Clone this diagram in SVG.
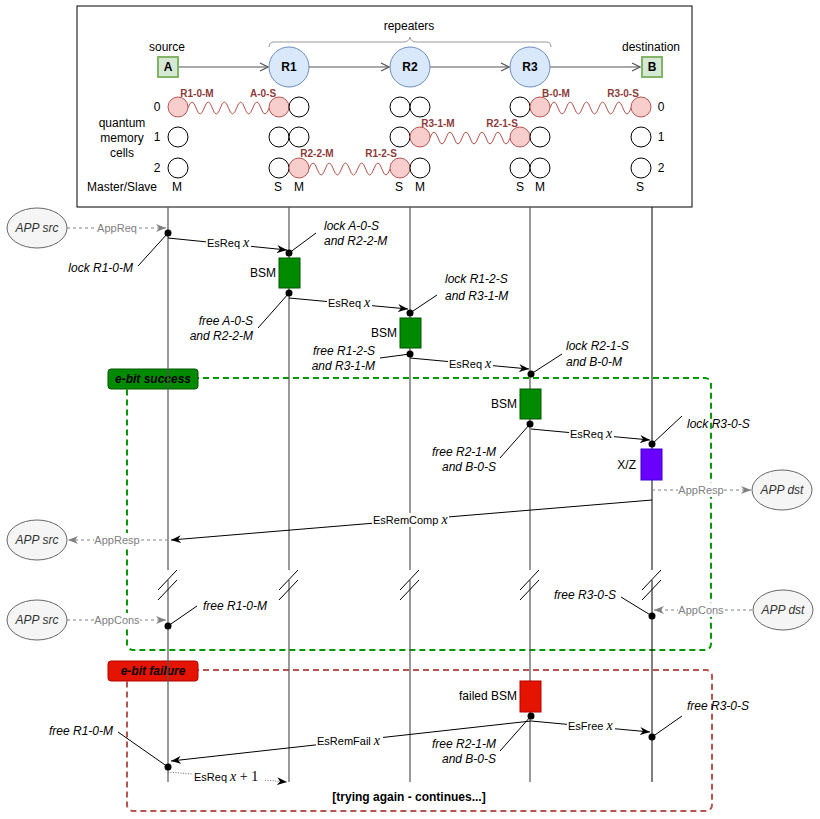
<svg xmlns="http://www.w3.org/2000/svg" width="820" height="819" viewBox="0 0 820 819">
<defs>
<style>
text{font-family:"Liberation Sans",Arial,sans-serif;fill:#000}
.t12{font-size:12px}
.t11{font-size:11px}
.c{text-anchor:middle}
.r{text-anchor:end}
.it{font-style:italic}
.b{font-weight:bold}
.mx{font-family:"Liberation Serif","Times New Roman",serif;font-style:italic;font-size:14px}
.mr{font-family:"Liberation Serif","Times New Roman",serif;font-size:14px}
.gray{fill:#808080}
.mem{fill:#fff;stroke:#000;stroke-width:1}
.ent{fill:#f8cecc;stroke:#b85450;stroke-width:1}
.wave{fill:none;stroke:#b85450;stroke-width:1}
.ml{font-size:10px;font-weight:bold;fill:#8c3b3b;text-anchor:middle}
.life{stroke:#555;stroke-width:1.2}
.msg{stroke:#000;stroke-width:1;fill:none}
.app{stroke:#808080;stroke-width:1;stroke-dasharray:3,3;fill:none}
.lead{stroke:#000;stroke-width:1}
.dot{fill:#000}
.bg{fill:#fff}
.ell{fill:#f5f5f5;stroke:#666;stroke-width:1}
.ellt{font-size:12px;font-style:italic;fill:#333;text-anchor:middle}
.topa{stroke:#555;stroke-width:1.2;fill:none}
</style>
<marker id="ah" viewBox="0 0 10 8" refX="10" refY="4" markerWidth="10" markerHeight="8" markerUnits="userSpaceOnUse" orient="auto">
<path d="M0,0 L10,4 L0,8 L3,4 z" fill="#000"/>
</marker>
<marker id="ahg" viewBox="0 0 10 8" refX="10" refY="4" markerWidth="10" markerHeight="8" markerUnits="userSpaceOnUse" orient="auto">
<path d="M0,0 L10,4 L0,8 L3,4 z" fill="#808080"/>
</marker>
<marker id="ao" viewBox="0 0 10 10" refX="9" refY="5" markerWidth="10" markerHeight="10" markerUnits="userSpaceOnUse" orient="auto">
<path d="M1,1 L9,5 L1,9" fill="none" stroke="#555" stroke-width="1.2"/>
</marker>
</defs>
<rect width="820" height="819" fill="#fff"/>

<g id="topology">
<rect x="77" y="6" width="615" height="201" fill="#fff" stroke="#000" stroke-width="1"/>
<text class="t12 c" x="409" y="30">repeaters</text>
<path d="M269,47 Q269,42 274,42 L404,42 Q409,42 410,37 Q411,42 416,42 L546,42 Q551,42 551,47" fill="none" stroke="#999" stroke-width="1"/>
<text class="t12 c" x="167" y="51">source</text>
<text class="t12 c" x="651" y="51">destination</text>
<g class="topconn">
<line class="topa" x1="178" y1="67" x2="268" y2="67" marker-end="url(#ao)"/>
<line class="topa" x1="309" y1="67" x2="389" y2="67" marker-end="url(#ao)"/>
<line class="topa" x1="430" y1="67" x2="509" y2="67" marker-end="url(#ao)"/>
<line class="topa" x1="550" y1="67" x2="640" y2="67" marker-end="url(#ao)"/>
</g>
<g id="nodeA"><rect x="158" y="57" width="20" height="20" fill="#d5e8d4" stroke="#82b366" stroke-width="2"/><text class="t12 c b" x="168" y="71">A</text></g>
<g id="nodeR1"><circle cx="289" cy="67" r="20" fill="#dae8fc" stroke="#6c8ebf"/><text class="t12 c b" x="289" y="71">R1</text></g>
<g id="nodeR2"><circle cx="410" cy="67" r="20" fill="#dae8fc" stroke="#6c8ebf"/><text class="t12 c b" x="410" y="71">R2</text></g>
<g id="nodeR3"><circle cx="530" cy="67" r="20" fill="#dae8fc" stroke="#6c8ebf"/><text class="t12 c b" x="530" y="71">R3</text></g>
<g id="nodeB"><rect x="642" y="57" width="20" height="20" fill="#d5e8d4" stroke="#82b366" stroke-width="2"/><text class="t12 c b" x="652" y="71">B</text></g>
</g>

<g id="memory">
<text class="t12 c" x="157" y="111">0</text>
<text class="t12 c" x="157" y="141">1</text>
<text class="t12 c" x="157" y="172">2</text>
<text class="t12 c" x="661" y="111">0</text>
<text class="t12 c" x="661" y="141">1</text>
<text class="t12 c" x="661" y="172">2</text>
<text class="t12 c" x="122" y="127">quantum</text>
<text class="t12 c" x="122" y="142">memory</text>
<text class="t12 c" x="122" y="157">cells</text>
<text class="t12 c" x="122" y="191">Master/Slave</text>
<text class="t12 c" x="177" y="191">M</text>
<text class="t12 c" x="278" y="191">S</text>
<text class="t12 c" x="299" y="191">M</text>
<text class="t12 c" x="399" y="191">S</text>
<text class="t12 c" x="420" y="191">M</text>
<text class="t12 c" x="520" y="191">S</text>
<text class="t12 c" x="540" y="191">M</text>
<text class="t12 c" x="640" y="191">S</text>

<path class="wave" d="M188,108 q4.05,-12 8.1,0 t8.1,0 t8.1,0 t8.1,0 t8.1,0 t8.1,0 t8.1,0 t8.1,0 t8.1,0 t8.1,0"/>
<path class="wave" d="M309,169 q4.05,-12 8.1,0 t8.1,0 t8.1,0 t8.1,0 t8.1,0 t8.1,0 t8.1,0 t8.1,0 t8.1,0 t8.1,0"/>
<path class="wave" d="M430,138 q4,-12 8,0 t8,0 t8,0 t8,0 t8,0 t8,0 t8,0 t8,0 t8,0 t8,0"/>
<path class="wave" d="M550,108 q4.05,-12 8.1,0 t8.1,0 t8.1,0 t8.1,0 t8.1,0 t8.1,0 t8.1,0 t8.1,0 t8.1,0 t8.1,0"/>

<circle class="ent" cx="178" cy="107" r="10"/>
<circle class="mem" cx="178" cy="137" r="10"/>
<circle class="mem" cx="178" cy="168" r="10"/>

<circle class="ent" cx="279" cy="107" r="10"/>
<circle class="mem" cx="299" cy="107" r="10"/>
<circle class="mem" cx="279" cy="137" r="10"/>
<circle class="mem" cx="299" cy="137" r="10"/>
<circle class="mem" cx="279" cy="168" r="10"/>
<circle class="ent" cx="299" cy="168" r="10"/>

<circle class="mem" cx="400" cy="107" r="10"/>
<circle class="mem" cx="420" cy="107" r="10"/>
<circle class="mem" cx="400" cy="137" r="10"/>
<circle class="ent" cx="420" cy="137" r="10"/>
<circle class="ent" cx="400" cy="168" r="10"/>
<circle class="mem" cx="420" cy="168" r="10"/>

<circle class="mem" cx="520" cy="107" r="10"/>
<circle class="ent" cx="540" cy="107" r="10"/>
<circle class="ent" cx="520" cy="137" r="10"/>
<circle class="mem" cx="540" cy="137" r="10"/>
<circle class="mem" cx="520" cy="168" r="10"/>
<circle class="mem" cx="540" cy="168" r="10"/>

<circle class="ent" cx="641" cy="107" r="10"/>
<circle class="mem" cx="641" cy="137" r="10"/>
<circle class="mem" cx="641" cy="168" r="10"/>

<text class="ml" x="197" y="97">R1-0-M</text>
<text class="ml" x="263" y="97">A-0-S</text>
<text class="ml" x="317" y="157">R2-2-M</text>
<text class="ml" x="381" y="157">R1-2-S</text>
<text class="ml" x="438" y="127">R3-1-M</text>
<text class="ml" x="502" y="127">R2-1-S</text>
<text class="ml" x="556" y="97">B-0-M</text>
<text class="ml" x="623" y="97">R3-0-S</text>
</g>

<g id="frame-success">
<rect x="127" y="378" width="584" height="272" rx="6" fill="none" stroke="#009900" stroke-width="2" stroke-dasharray="6,4"/>
<rect x="108" y="369" width="90" height="20" rx="3" fill="#008a00" stroke="#005700"/>
<text class="t12 c b it" x="153" y="383">e-bit success</text>
</g>
<g id="frame-failure">
<rect x="127" y="670" width="585" height="141" rx="6" fill="none" stroke="#b85450" stroke-width="2" stroke-dasharray="6,4"/>
<rect x="108" y="661" width="90" height="20" rx="3" fill="#e51400" stroke="#b20000"/>
<text class="t12 c b it" x="153" y="675">e-bit failure</text>
</g>

<g id="lifelines">
<line class="life" x1="168" y1="207" x2="168" y2="570"/><line class="life" x1="168" y1="580" x2="168" y2="782"/>
<line class="life" x1="289" y1="207" x2="289" y2="570"/><line class="life" x1="289" y1="580" x2="289" y2="782"/>
<line class="life" x1="410" y1="207" x2="410" y2="570"/><line class="life" x1="410" y1="580" x2="410" y2="782"/>
<line class="life" x1="530" y1="207" x2="530" y2="570"/><line class="life" x1="530" y1="580" x2="530" y2="782"/>
<line x1="652" y1="207" x2="652" y2="570" stroke="#000"/><line x1="652" y1="580" x2="652" y2="782" stroke="#000"/>
<g stroke="#000" stroke-width="1">
<line x1="158" y1="590" x2="177" y2="570"/><line x1="158" y1="600" x2="177" y2="580"/>
<line x1="279" y1="590" x2="298" y2="570"/><line x1="279" y1="600" x2="298" y2="580"/>
<line x1="400" y1="590" x2="419" y2="570"/><line x1="400" y1="600" x2="419" y2="580"/>
<line x1="520" y1="590" x2="539" y2="570"/><line x1="520" y1="600" x2="539" y2="580"/>
<line x1="642" y1="590" x2="661" y2="570"/><line x1="642" y1="600" x2="661" y2="580"/>
</g>
</g>

<g id="bsm-r1"><rect x="279" y="258" width="21" height="30" fill="#008a00" stroke="#005700"/><text class="t12 r" x="276" y="277">BSM</text></g>
<g id="bsm-r2"><rect x="400" y="318" width="21" height="30" fill="#008a00" stroke="#005700"/><text class="t12 r" x="397" y="337">BSM</text></g>
<g id="bsm-r3"><rect x="520" y="389" width="21" height="30" fill="#008a00" stroke="#005700"/><text class="t12 r" x="517" y="408">BSM</text></g>
<g id="xz-b"><rect x="641" y="449" width="21" height="31" fill="#6a00ff" stroke="#3700cc"/><text class="t12 r" x="636" y="469">X/Z</text></g>
<g id="failed-bsm-r3"><rect x="520" y="681" width="21" height="31" fill="#e51400" stroke="#b20000"/><text class="t12 r" x="517" y="700">failed BSM</text></g>

<g id="app-src-1"><ellipse class="ell" cx="37" cy="228" rx="30" ry="20"/><text class="ellt" x="37" y="232">APP src</text></g>
<g id="app-src-2"><ellipse class="ell" cx="37" cy="540" rx="30" ry="20"/><text class="ellt" x="37" y="544">APP src</text></g>
<g id="app-src-3"><ellipse class="ell" cx="37" cy="620" rx="30" ry="20"/><text class="ellt" x="37" y="624">APP src</text></g>
<g id="app-dst-1"><ellipse class="ell" cx="782" cy="490" rx="30" ry="20"/><text class="ellt" x="782" y="494">APP dst</text></g>
<g id="app-dst-2"><ellipse class="ell" cx="783" cy="610" rx="30" ry="20"/><text class="ellt" x="783" y="614">APP dst</text></g>

<g id="connectors">
<line class="app" x1="67" y1="228" x2="166" y2="228" marker-end="url(#ahg)"/>
<rect class="bg" x="97" y="221" width="40" height="14"/><text class="t11 c gray" x="117" y="232">AppReq</text>

<line class="msg" x1="168" y1="238" x2="287" y2="250" marker-end="url(#ah)"/>
<rect class="bg" x="206" y="236" width="45" height="14"/><text class="t11" x="207" y="247">EsReq <tspan class="mx">x</tspan></text>

<line class="msg" x1="289" y1="298" x2="408" y2="309" marker-end="url(#ah)"/>
<rect class="bg" x="327" y="296" width="45" height="14"/><text class="t11" x="328" y="307">EsReq <tspan class="mx">x</tspan></text>

<line class="msg" x1="410" y1="358" x2="529" y2="369" marker-end="url(#ah)"/>
<rect class="bg" x="448" y="357" width="45" height="14"/><text class="t11" x="449" y="368">EsReq <tspan class="mx">x</tspan></text>

<line class="msg" x1="531" y1="429" x2="650" y2="440" marker-end="url(#ah)"/>
<rect class="bg" x="569" y="427" width="45" height="14"/><text class="t11" x="570" y="438">EsReq <tspan class="mx">x</tspan></text>

<line class="app" x1="652" y1="490" x2="751" y2="490" marker-end="url(#ahg)"/>
<rect class="bg" x="678" y="483" width="46" height="14"/><text class="t11 c gray" x="701" y="494">AppResp</text>

<line class="msg" x1="652" y1="500" x2="171" y2="540" marker-end="url(#ah)"/>
<rect class="bg" x="372" y="513" width="77" height="14"/><text class="t11" x="373" y="524">EsRemComp <tspan class="mx">x</tspan></text>

<line class="app" x1="168" y1="540" x2="68" y2="540" marker-end="url(#ahg)"/>
<rect class="bg" x="94" y="533" width="46" height="14"/><text class="t11 c gray" x="117" y="544">AppResp</text>

<line class="app" x1="67" y1="620" x2="166" y2="620" marker-end="url(#ahg)"/>
<rect class="bg" x="94" y="613" width="46" height="14"/><text class="t11 c gray" x="117" y="624">AppCons</text>

<line class="app" x1="752" y1="610" x2="654" y2="610" marker-end="url(#ahg)"/>
<rect class="bg" x="678" y="603" width="46" height="14"/><text class="t11 c gray" x="701" y="614">AppCons</text>

<line class="msg" x1="531" y1="721" x2="650" y2="732" marker-end="url(#ah)"/>
<rect class="bg" x="567" y="719" width="48" height="14"/><text class="t11" x="568" y="730">EsFree <tspan class="mx">x</tspan></text>

<line class="msg" x1="531" y1="721" x2="171" y2="761" marker-end="url(#ah)"/>
<rect class="bg" x="316" y="734" width="67" height="14"/><text class="t11" x="317" y="745">EsRemFail <tspan class="mx">x</tspan></text>

<line x1="168" y1="772" x2="287" y2="782" stroke="#666" stroke-width="1" stroke-dasharray="1,1.5" marker-end="url(#ah)"/>
<rect class="bg" x="193" y="770" width="72" height="14"/><text class="t11" x="194" y="781">EsReq <tspan class="mx">x</tspan><tspan class="mr"> + 1</tspan></text>
</g>

<g id="annotations">
<circle class="dot" cx="168" cy="233" r="3.5"/>
<line class="lead" x1="168" y1="233" x2="138" y2="266"/>
<text class="t12 r it" x="133" y="272">lock R1-0-M</text>

<circle class="dot" cx="289" cy="253" r="3.5"/>
<line class="lead" x1="289" y1="253" x2="316" y2="233"/>
<text class="t12 it" x="324" y="230">lock A-0-S</text>
<text class="t12 it" x="324" y="245">and R2-2-M</text>

<circle class="dot" cx="289" cy="293" r="3.5"/>
<line class="lead" x1="289" y1="293" x2="258" y2="328"/>
<text class="t12 r it" x="253" y="325">free A-0-S</text>
<text class="t12 r it" x="253" y="340">and R2-2-M</text>

<circle class="dot" cx="410" cy="313" r="3.5"/>
<line class="lead" x1="410" y1="313" x2="437" y2="295"/>
<text class="t12 it" x="445" y="283">lock R1-2-S</text>
<text class="t12 it" x="445" y="300">and R3-1-M</text>

<circle class="dot" cx="410" cy="354" r="3.5"/>
<line class="lead" x1="410" y1="354" x2="380" y2="358"/>
<text class="t12 r it" x="375" y="355">free R1-2-S</text>
<text class="t12 r it" x="375" y="370">and R3-1-M</text>

<circle class="dot" cx="531" cy="374" r="3.5"/>
<line class="lead" x1="531" y1="374" x2="562" y2="354"/>
<text class="t12 it" x="566" y="350">lock R2-1-S</text>
<text class="t12 it" x="566" y="366">and B-0-M</text>

<circle class="dot" cx="530" cy="424" r="3.5"/>
<line class="lead" x1="530" y1="424" x2="500" y2="458"/>
<text class="t12 r it" x="496" y="456">free R2-1-M</text>
<text class="t12 r it" x="496" y="471">and B-0-S</text>

<circle class="dot" cx="652" cy="444" r="3.5"/>
<line class="lead" x1="652" y1="444" x2="682" y2="416"/>
<text class="t12 it" x="687" y="428">lock R3-0-S</text>

<circle class="dot" cx="168" cy="626" r="3.5"/>
<line class="lead" x1="168" y1="626" x2="197" y2="606"/>
<text class="t12 it" x="203" y="610">free R1-0-M</text>

<circle class="dot" cx="652" cy="616" r="3.5"/>
<line class="lead" x1="652" y1="616" x2="621" y2="597"/>
<text class="t12 r it" x="616" y="599">free R3-0-S</text>

<circle class="dot" cx="531" cy="716" r="3.5"/>
<line class="lead" x1="531" y1="716" x2="500" y2="751"/>
<text class="t12 r it" x="496" y="748">free R2-1-M</text>
<text class="t12 r it" x="496" y="763">and B-0-S</text>

<circle class="dot" cx="652" cy="737" r="3.5"/>
<line class="lead" x1="652" y1="737" x2="682" y2="716"/>
<text class="t12 it" x="687" y="710">free R3-0-S</text>

<circle class="dot" cx="168" cy="767" r="3.5"/>
<line class="lead" x1="168" y1="767" x2="118" y2="732"/>
<text class="t12 r it" x="113" y="735">free R1-0-M</text>

<text class="t12 c b" x="409" y="801">[trying again - continues...]</text>
</g>
</svg>
